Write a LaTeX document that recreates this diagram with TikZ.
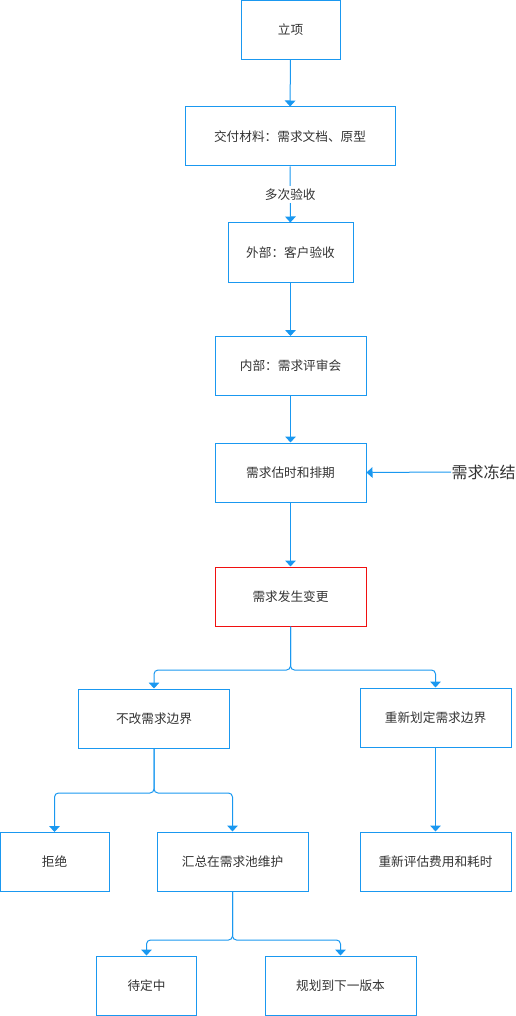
\documentclass[tikz,border=0pt]{standalone}
\usepackage{fontspec}
\newfontfamily\cjk{Noto Sans CJK SC}
\usetikzlibrary{arrows.meta}
\definecolor{flowblue}{HTML}{1A98F0}
\definecolor{alertred}{HTML}{F01010}
\definecolor{txtgray}{HTML}{333333}

\begin{document}
\begin{tikzpicture}[
    x=0.75pt, y=-0.75pt,
    line width=0.75pt,
    >={Triangle[width=8pt,length=4.5pt]},
    box/.style={rectangle, draw=flowblue, minimum height=44.25pt, inner sep=2pt,
                font=\cjk\fontsize{9.5}{11}\selectfont, text=txtgray},
    flow/.style={draw=flowblue, ->, color=flowblue},
    fork/.style={flow, rounded corners=3pt},
    edge label/.style={fill=white, inner sep=2pt, font=\cjk\fontsize{9.5}{11}\selectfont, text=txtgray}
]
    \useasboundingbox (0,0) rectangle (516,1016);

    \node[box, minimum width=74.25pt] (start) at (290.5,30) {立项};
    \node[box, minimum width=157.5pt] (deliver) at (290,136.5) {交付材料：需求文档、原型};
    \node[box, minimum width=93.75pt] (external) at (290.5,252.5) {外部：客户验收};
    \node[box, minimum width=113.25pt] (internal) at (290.5,366) {内部：需求评审会};
    \node[box, minimum width=113.25pt] (schedule) at (290.5,472.5) {需求估时和排期};
    \node[box, minimum width=113.25pt, draw=alertred] (change) at (290.5,596.5) {需求发生变更};
    \node[font=\cjk\fontsize{12}{14}\selectfont, text=txtgray, anchor=west, inner sep=0pt] (freeze) at (451,472) {需求冻结};

    \node[box, minimum width=113.25pt] (keep) at (154,718.5) {不改需求边界};
    \node[box, minimum width=113.25pt] (redefine) at (435.5,717.5) {重新划定需求边界};

    \node[box, minimum width=81.75pt] (reject) at (54.5,862) {拒绝};
    \node[box, minimum width=113.25pt] (pool) at (232.5,861.5) {汇总在需求池维护};
    \node[box, minimum width=113.25pt] (reassess) at (435.5,861.5) {重新评估费用和耗时};

    \node[box, minimum width=75pt] (pending) at (146.5,985.5) {待定中};
    \node[box, minimum width=113.25pt] (nextver) at (340.5,985.5) {规划到下一版本};

    \coordinate (split1) at (290.5,670);
    \coordinate (split2) at (154,793);
    \coordinate (split3) at (232.5,940);

    \draw[flow] (start) -- (deliver);
    \draw[flow] (deliver) -- node[edge label] {多次验收} (external);
    \draw[flow] (external) -- (internal);
    \draw[flow] (internal) -- (schedule);
    \draw[flow] (schedule) -- (change);
    \draw[flow] (freeze.west) -- (schedule.east);

    \draw[fork] (change.south) -- (split1) -| (keep.north);
    \draw[fork] (change.south) -- (split1) -| (redefine.north);
    \draw[flow] (redefine) -- (reassess);

    \draw[fork] (keep.south) -- (split2) -| (reject.north);
    \draw[fork] (keep.south) -- (split2) -| (pool.north);

    \draw[fork] (pool.south) -- (split3) -| (pending.north);
    \draw[fork] (pool.south) -- (split3) -| (nextver.north);
\end{tikzpicture}
\end{document}
